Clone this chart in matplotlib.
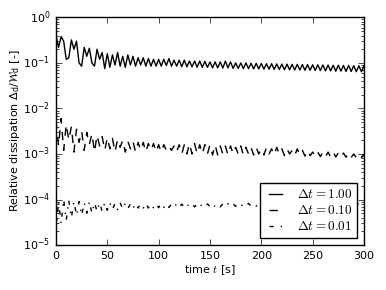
import numpy as np
import matplotlib
matplotlib.use('Agg')
import matplotlib.pyplot as plt

# time axis, read every 2.5 s
t = np.arange(0, 300.1, 2.5)

# dt = 1.00 (solid)
diss_1 = [0.40, 0.22, 0.38, 0.30, 0.12, 0.13, 0.32, 0.20, 0.30, 0.10,
          0.085, 0.22, 0.14, 0.21, 0.10, 0.085, 0.20, 0.12, 0.17, 0.075,
          0.16,
          0.08, 0.15, 0.09, 0.17, 0.085, 0.14, 0.08, 0.15, 0.09, 0.14,
          0.085, 0.13, 0.09, 0.13, 0.085, 0.125, 0.085, 0.12, 0.085, 0.12,
          0.085, 0.12, 0.088, 0.125, 0.085, 0.115, 0.085, 0.115, 0.083, 0.115,
          0.082, 0.11, 0.082, 0.11, 0.08, 0.11, 0.08, 0.108, 0.08, 0.105,
          0.078, 0.105, 0.078, 0.105, 0.077, 0.11, 0.078, 0.105, 0.076, 0.10,
          0.076, 0.10, 0.075, 0.10, 0.075, 0.098, 0.074, 0.098, 0.074, 0.097,
          0.073, 0.096, 0.073, 0.096, 0.072, 0.095, 0.072, 0.094, 0.071, 0.094,
          0.071, 0.093, 0.070, 0.093, 0.070, 0.092, 0.069, 0.092, 0.069, 0.091,
          0.068, 0.091, 0.068, 0.090, 0.067, 0.090, 0.067, 0.089, 0.066, 0.089,
          0.066, 0.088, 0.065, 0.088, 0.065, 0.087, 0.064, 0.087, 0.064, 0.086]

# dt = 0.10 (dashed)
diss_01 = [0.0055, 0.0015, 0.0060, 0.0012, 0.0045, 0.0020, 0.0040, 0.0011, 0.0035, 0.0018,
           0.0032, 0.0012, 0.0030, 0.0016, 0.0028, 0.0011, 0.0026, 0.0015, 0.0024, 0.0012,
           0.0023,
           0.0013, 0.0022, 0.0011, 0.0021, 0.0014, 0.0020, 0.0011, 0.0019, 0.0013, 0.0019,
           0.0011, 0.0018, 0.0012, 0.0018, 0.0011, 0.0017, 0.0012, 0.0017, 0.0011, 0.0016,
           0.0011, 0.0016, 0.0012, 0.0015, 0.0012, 0.0015, 0.0011, 0.0016, 0.0010, 0.0016,
           0.0010, 0.0017, 0.0010, 0.0017, 0.0010, 0.0016, 0.0010, 0.0016, 0.0010, 0.0016,
           0.00095, 0.0016, 0.00095, 0.0015, 0.0010, 0.0015, 0.00095, 0.0015, 0.0010, 0.0014,
           0.0010, 0.0015, 0.00095, 0.0014, 0.0010, 0.0014, 0.00095, 0.0014, 0.0010, 0.0013,
           0.00095, 0.0014, 0.0010, 0.0013, 0.00095, 0.0014, 0.0010, 0.0013, 0.00092, 0.0013,
           0.0010, 0.0012, 0.00092, 0.0013, 0.00095, 0.0012, 0.00090, 0.0012, 0.00092, 0.0011,
           0.00088, 0.0011, 0.00088, 0.0011, 0.00087, 0.0011, 0.00086, 0.0011, 0.00086, 0.00105,
           0.00085, 0.00105, 0.00085, 0.00105, 0.00084, 0.0010, 0.00084, 0.0010, 0.00083, 0.0010]

# dt = 0.01 (dash-dot)
diss_001 = [2.0e-5, 9.0e-5, 3.0e-5, 1.0e-4, 3.5e-5, 9.5e-5, 4.0e-5, 9.0e-5, 4.5e-5, 9.0e-5,
            4.5e-5, 8.5e-5, 5.0e-5, 9.0e-5, 5.0e-5, 8.5e-5, 5.5e-5, 8.5e-5, 5.5e-5, 8.5e-5,
            5.8e-5,
            8.5e-5, 6.0e-5, 8.3e-5, 6.0e-5, 8.5e-5, 6.2e-5, 8.2e-5, 6.3e-5, 8.0e-5, 6.3e-5,
            8.2e-5, 6.5e-5, 8.0e-5, 6.5e-5, 8.3e-5, 6.5e-5, 8.0e-5, 6.6e-5, 8.0e-5, 6.6e-5,
            8.2e-5, 6.7e-5, 8.0e-5, 6.7e-5, 7.9e-5, 6.8e-5, 8.1e-5, 6.8e-5, 7.9e-5, 6.8e-5,
            8.0e-5, 6.9e-5, 7.9e-5, 6.9e-5, 8.0e-5, 6.9e-5, 7.9e-5, 7.0e-5, 8.0e-5, 7.0e-5,
            8.1e-5, 7.0e-5, 7.9e-5, 6.9e-5, 8.0e-5, 7.0e-5, 8.1e-5, 7.1e-5, 8.0e-5, 7.1e-5,
            8.1e-5, 7.1e-5, 8.0e-5, 7.2e-5, 8.2e-5, 7.2e-5, 8.0e-5, 7.2e-5, 8.1e-5, 7.3e-5,
            8.2e-5, 7.3e-5, 8.1e-5, 7.4e-5, 8.2e-5, 7.3e-5, 8.1e-5, 7.4e-5, 8.2e-5, 7.4e-5,
            8.2e-5, 7.4e-5, 8.1e-5, 7.5e-5, 8.3e-5, 7.4e-5, 8.2e-5, 7.5e-5, 8.3e-5, 7.5e-5,
            8.3e-5, 7.5e-5, 8.2e-5, 7.6e-5, 8.3e-5, 7.5e-5, 8.3e-5, 7.6e-5, 8.4e-5, 7.6e-5,
            8.3e-5, 7.6e-5, 8.4e-5, 7.7e-5, 8.4e-5, 7.6e-5, 8.4e-5, 7.7e-5, 8.5e-5, 7.7e-5]

labels = [r'$\Delta t = 1.00$', r'$\Delta t = 0.10$', r'$\Delta t = 0.01$']

plt.style.use('classic')
plt.rcParams['figure.facecolor'] = 'white'
plt.rcParams['savefig.facecolor'] = 'white'
plt.rcParams['font.size'] = 8

fig = plt.figure(figsize=(3.86, 2.90), dpi=100)
ax = fig.add_axes([0.145, 0.155, 0.798, 0.785])

ax.semilogy(t, diss_1, 'k-', lw=1.0, label=labels[0])
ax.semilogy(t, diss_01, 'k--', lw=1.0, label=labels[1])
ax.semilogy(t, diss_001, 'k-.', lw=1.0, label=labels[2])

ax.set_xlim(0, 300)
ax.set_ylim(1e-5, 1)
ax.set_xticks([0, 50, 100, 150, 200, 250, 300])
ax.tick_params(labelsize=8)

ax.set_xlabel(r'time $t$ [s]', fontsize=8, math_fontfamily='cm', labelpad=2)
ax.set_ylabel(r'Relative dissipation $\Delta_\mathrm{d}/\mathcal{W}_\mathrm{d}$ [-]', fontsize=8,
              math_fontfamily='dejavusans', labelpad=1)

leg = ax.legend(loc='lower right', fontsize=9.5, handlelength=1.6, fancybox=False,
                borderaxespad=0.5, labelspacing=0.22)
for txt in leg.get_texts():
    txt.set_math_fontfamily('cm')

plt.savefig('out.png', dpi=100)
